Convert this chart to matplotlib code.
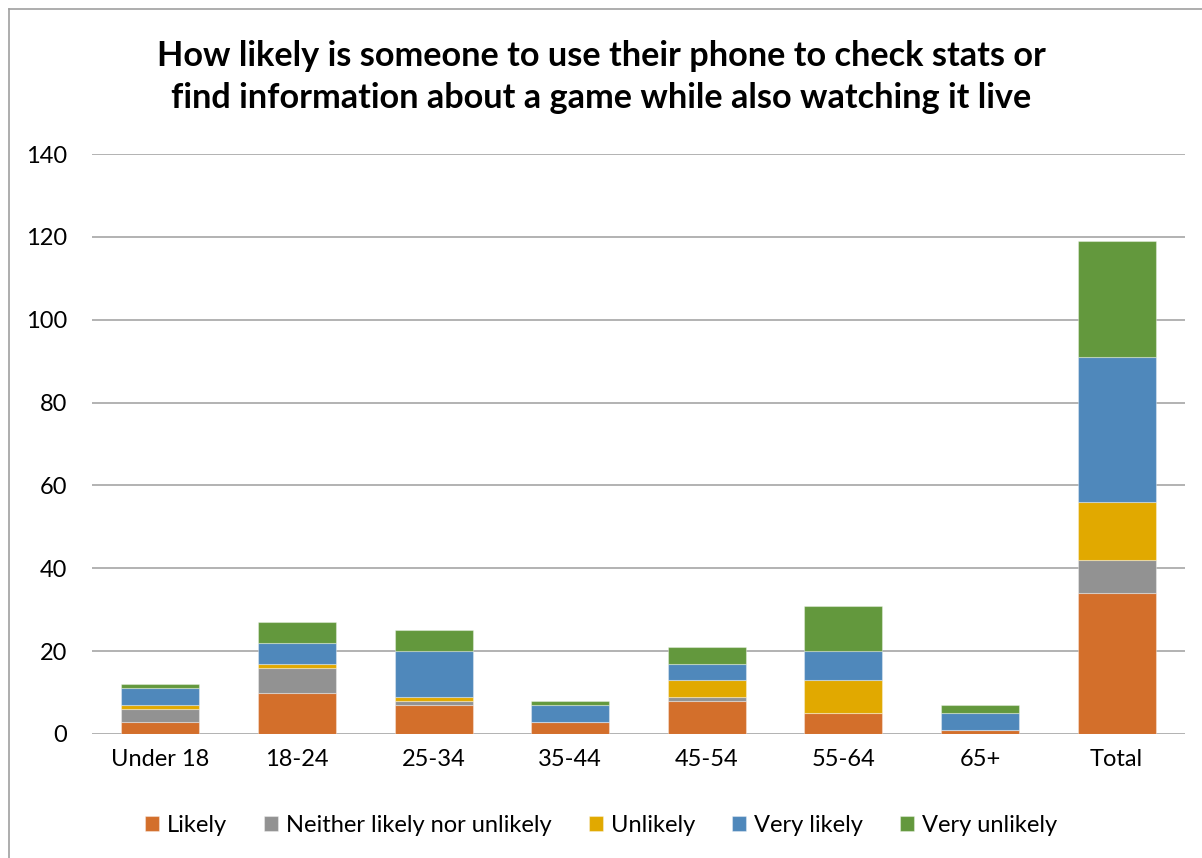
import matplotlib
matplotlib.use("Agg")
import matplotlib.pyplot as plt
from matplotlib.lines import Line2D
import numpy as np

categories = ["Under 18", "18-24", "25-34", "35-44", "45-54", "55-64", "65+", "Total"]
series_names = ["Likely", "Neither likely nor unlikely", "Unlikely", "Very likely", "Very unlikely"]
likely = [3, 10, 7, 3, 8, 5, 1, 34]
neither = [3, 6, 1, 0, 1, 0, 0, 8]
unlikely = [1, 1, 1, 0, 4, 8, 0, 14]
very_likely = [4, 5, 11, 4, 4, 7, 4, 35]
very_unlikely = [1, 5, 5, 1, 4, 11, 2, 28]
colors = ["#D36F2B", "#929292", "#E1A900", "#4F88BB", "#63983D"]
yticks = [0, 20, 40, 60, 80, 100, 120, 140]

plt.rcParams['font.family'] = ['Lato', 'DejaVu Sans']

W, H = 1202, 858
fig = plt.figure(figsize=(W/100, H/100), dpi=100)
ax = fig.add_axes([92/W, 1 - 734/H, (1185-92)/W, (734-154)/H])

x = np.arange(len(categories))
bottom = np.zeros(len(categories))
for name, vals, c in zip(series_names, [likely, neither, unlikely, very_likely, very_unlikely], colors):
    v = np.array(vals, dtype=float)
    ax.bar(x, v, 0.57, bottom=bottom, color=c, label=name, zorder=3,
           edgecolor=(1, 1, 1, 0.35), linewidth=0.8)
    bottom += v

ax.set_xlim(-0.5, len(categories) - 0.5)
ax.set_ylim(0, 140)
ax.set_yticks(yticks)
ax.set_xticks(x)
ax.set_xticklabels(categories, fontsize=17)
ax.tick_params(axis='y', labelsize=17, length=0, pad=18)
ax.tick_params(axis='x', length=0, pad=11)
ax.grid(axis='y', color='#A6A6A6', linewidth=1.2, zorder=0)
for s in ax.spines.values():
    s.set_visible(False)

fig.text(0.5, 1 - 77/H, "How likely is someone to use their phone to check stats or\nfind information about a game while also watching it live",
         ha='center', va='center', fontsize=24.7, fontweight='bold', linespacing=1.42)

fig.legend(loc='center', bbox_to_anchor=(0.5, 1 - 825/H), ncol=5, frameon=False,
           fontsize=17, handlelength=0.6, handleheight=0.6, handletextpad=0.35, columnspacing=1.55)

# partial chart border (top and left edges visible)
fig.add_artist(Line2D([8.5/W, 8.5/W], [0, 1 - 8.5/H], transform=fig.transFigure, color='#A0A0A0', linewidth=1.2))
fig.add_artist(Line2D([8.5/W, 1], [1 - 8.5/H, 1 - 8.5/H], transform=fig.transFigure, color='#A0A0A0', linewidth=1.2))

fig.savefig("out.png", dpi=100)
